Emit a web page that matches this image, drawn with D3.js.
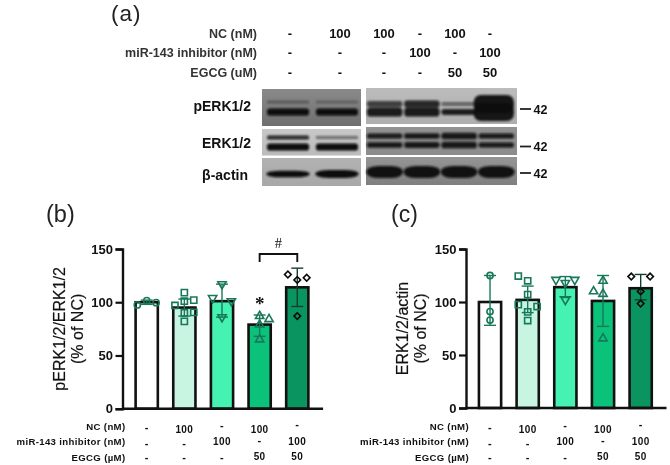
<!DOCTYPE html>
<html><head><meta charset="utf-8">
<script src="https://cdn.jsdelivr.net/npm/d3@7/dist/d3.min.js"></script>
<style>html,body{margin:0;padding:0;background:#fff}svg{display:block;filter:blur(.3px)}text{font-family:"Liberation Sans",Arial,sans-serif;fill:#111}</style>
</head><body><svg id="c" width="670" height="465"></svg>
<script>
// ---- data ----
const treatments = ["NC (nM)", "miR-143 inhibitor (nM)"];
const blotNC = ["-", "100", "100", "-", "100", "-"];
const blotInhibitor = ["-", "-", "-", "100", "-", "100"];
const blotEGCG = ["-", "-", "-", "-", "50", "50"];
const barNC = ["-", "100", "-", "100", "-"];
const barInhibitor = ["-", "-", "100", "-", "100"];
const barEGCG = ["-", "-", "-", "50", "50"];
const groups = ["g1", "g2", "g3", "g4", "g5"];
const yTicks = [0, 50, 100, 150];
const barColors = ["#ffffff", "#c8f5e2", "#45f2b1", "#0bc27b", "#0a9560"];

const perkMeans = [100, 95, 101, 79, 114];
const perkLow = [98, 87, 86, 68, 96];
const perkHigh = [102, 103, 117, 88, 132];
const perkPoints = [
  [[-1, 97.5], [0, 101.5], [1, 99.6]],
  [[-1, 97], [0, 109], [1, 102], [0, 101], [1, 90.5], [0, 90], [0, 82]],
  [[-1, 104], [0, 117], [1, 101], [0, 86]],
  [[0, 87], [1, 84], [0, 79], [0, 65]],
  [[-1, 126], [0, 121], [1, 123], [0, 87]]
];
const erkMeans = [100, 102, 114, 101, 113];
const erkLow = [78, 90, 105, 77, 102];
const erkHigh = [125, 115, 124, 125, 126];
const erkPoints = [
  [[0, 125], [0, 91], [0, 83]],
  [[-1, 124.5], [0, 120], [0, 107], [-1, 97.5], [1, 95.7], [0, 90.7], [0, 82.5]],
  [[-1, 121], [0, 118], [1, 121], [0, 102]],
  [[0, 120], [-1, 110], [0, 107.6], [0, 65.6]],
  [[-1, 124], [1, 124], [0, 110], [0, 98.5]]
];
// band strength per lane: [thickness of upper band, opacity of upper, thickness of lower, opacity of lower]
const laneLeft = ["L1", "L2"];
const laneRight = ["L3", "L4", "L5", "L6"];
const perkLeftBands = [[3, .3, 7, 1], [3, .25, 7, 1]];
const perkRightBands = [[6, .72, 9, .92], [7, .85, 9, .92], [3.5, .55, 6, .9], [18, .95, 18, .95]];
const erkLeftBands = [[4, .85, 7, 1], [3, .5, 7, 1]];
const erkRightBands = [[5, .9, 5.5, .92], [5.5, .92, 6, .92], [6.5, .92, 6.5, .92], [5, .92, 5, .92]];
const actinLeftBands = [[6.5, 1], [8, 1]];
const actinRightBands = [[12, .97], [12, .97], [12, .97], [12, .97]];
const markerLabel = "42";

// ---- drawing ----
const svg = d3.select("#c");
const defs = svg.append("defs");
defs.append("filter").attr("id", "blur").attr("x", "-20%").attr("y", "-60%").attr("width", "140%").attr("height", "220%")
  .append("feGaussianBlur").attr("stdDeviation", 1.3);

const ink = "#0d0d0d";
function panel(x0, x1, y0, y1, bg, bg2) {
  const id = "g" + x0 + "_" + y0;
  const g = defs.append("linearGradient").attr("id", id).attr("x1", 0).attr("x2", 0).attr("y1", 0).attr("y2", 1);
  g.append("stop").attr("offset", 0).attr("stop-color", bg);
  g.append("stop").attr("offset", 1).attr("stop-color", bg2);
  svg.append("rect").attr("x", x0).attr("y", y0).attr("width", x1 - x0).attr("height", y1 - y0).attr("fill", `url(#${id})`);
}
function bands(lanes, scale, rows, yA, yB) {
  const g = svg.append("g").attr("filter", "url(#blur)");
  rows.forEach((r, i) => {
    const x = scale(lanes[i]), w = scale.bandwidth();
    if (yB === undefined) {
      g.append("rect").attr("x", x - .5).attr("y", yA - r[0] / 2).attr("width", w + 1).attr("height", r[0]).attr("rx", w / 3).attr("ry", r[0] / 2.2).attr("fill", ink).attr("opacity", r[1]);
    } else {
      const grow = r[0] > 12 ? 5 : 0;
      g.append("rect").attr("x", x - grow).attr("y", yA - r[0] / 2).attr("width", w + grow).attr("height", r[0]).attr("rx", r[0] / 2.5).attr("fill", ink).attr("opacity", r[1]);
      g.append("rect").attr("x", x - grow).attr("y", yB - r[2] / 2).attr("width", w + grow).attr("height", r[2]).attr("rx", r[2] / 2.5).attr("fill", ink).attr("opacity", r[3]);
    }
  });
}
const left = d3.scaleBand().domain(laneLeft).range([267, 358]).paddingInner(0.14);
const right = d3.scaleBand().domain(laneRight).range([367, 514]).paddingInner(0.05);

panel(262, 361, 89, 126, "#8a8a8a", "#6f6f6f");
panel(262, 361, 129, 155.5, "#c8c8c8", "#bbbbbb");
panel(262, 361, 158, 186, "#b2b2b2", "#a8a8a8");
panel(366, 517, 88, 124, "#bcbcbc", "#aeaeae");
panel(366, 517, 127, 155, "#929292", "#8c8c8c");
panel(366, 517, 157, 185, "#959595", "#7f7f7f");
bands(laneLeft, left, perkLeftBands, 102, 112);
bands(laneRight, right, perkRightBands, 104, 112);
bands(laneLeft, left, erkLeftBands, 137.5, 147);
bands(laneRight, right, erkRightBands, 136, 145);
bands(laneLeft, left, actinLeftBands, 174);
bands(laneRight, right, actinRightBands, 172);

const blotLabels = ["pERK1/2", "ERK1/2", "β-actin"];
const blotLabelX = [251, 251, 248];
const blotLabelY = [111, 148, 180];
blotLabels.forEach((t, i) => svg.append("text").attr("x", blotLabelX[i]).attr("y", blotLabelY[i]).attr("text-anchor", "end")
  .attr("font-size", 14).attr("font-weight", 700).text(t));
[[109], [146.5], [173]].forEach(([y]) => {
  svg.append("line").attr("x1", 520).attr("x2", 531).attr("y1", y).attr("y2", y).attr("stroke", "#222").attr("stroke-width", 1.8);
  svg.append("text").attr("x", 533.5).attr("y", y + 4.5).attr("font-size", 12.5).attr("font-weight", 700).text(markerLabel);
});

svg.append("text").attr("x", 111).attr("y", 20.6).attr("font-size", 22.5).attr("letter-spacing", 1).style("fill", "#222").text("(a)");

// top treatment table
const topCols = [290, 340, 384, 420, 455, 490];
[[blotNC, 33, "NC (nM)"], [blotInhibitor, 52.5, treatments[1]], [blotEGCG, 72.5, "EGCG (uM)"]].forEach(([vals, y, lab]) => {
  svg.append("text").attr("x", 257).attr("y", y + 4.5).attr("text-anchor", "end").attr("font-size", 12.5).attr("font-weight", 700).style("fill", "#333").text(lab);
  vals.forEach((v, i) => svg.append("text").attr("x", topCols[i]).attr("y", y + 4.5).attr("text-anchor", "middle")
    .attr("font-size", 13).attr("font-weight", 700).text(v));
});

const sym = [d3.symbolCircle, d3.symbolSquare, d3.symbolTriangle, d3.symbolTriangle, d3.symbolSquare];
const symSize = [30, 38, 30, 30, 22];
const symFlip = [0, 0, 180, 0, 45];

function chart(o) {
  const x = d3.scaleBand().domain(groups).range(o.xr);
  const y = d3.scaleLinear().domain([0, 150]).range([o.y0, 249]);
  const g = svg.append("g");
  const w = 22.2, c = d => x(d) + x.bandwidth() / 2;
  g.selectAll("rect.bar").data(groups).join("rect").attr("class", "bar")
    .attr("x", d => c(d) - w / 2).attr("width", w)
    .attr("y", (d, i) => y(o.means[i])).attr("height", (d, i) => o.y0 - y(o.means[i]))
    .attr("fill", (d, i) => barColors[i]).attr("stroke", "#111").attr("stroke-width", 2.6);
  // error bars
  const teal = "#17785a";
  groups.forEach((d, i) => {
    const col = i === 4 ? "#123f2e" : teal;
    const e = g.append("g").attr("stroke", col).attr("stroke-width", 1.4).attr("fill", "none");
    e.append("line").attr("x1", c(d)).attr("x2", c(d)).attr("y1", y(o.low[i])).attr("y2", y(o.high[i]));
    [o.low[i], o.high[i]].forEach(v => e.append("line").attr("x1", c(d) - 6).attr("x2", c(d) + 6).attr("y1", y(v)).attr("y2", y(v)));
    const path = d3.symbol().type(sym[i]).size(symSize[i])();
    const mark = i === 4 ? "#0b0b0b" : teal;
    g.append("g").selectAll("path").data(o.points[i]).join("path").attr("d", path)
      .attr("fill", "none").attr("stroke", mark).attr("stroke-width", 1.6)
      .attr("transform", p => `translate(${c(d) + p[0] * 9.4},${y(p[1])}) rotate(${symFlip[i]})`);
  });
  // axes
  const ax = g.append("g").attr("transform", `translate(${o.ax},0)`).call(d3.axisLeft(y).tickValues(yTicks).tickSize(7).tickPadding(2.5));
  ax.select(".domain").attr("stroke", "#111").attr("stroke-width", 2.4);
  ax.selectAll("line").attr("stroke", "#111").attr("stroke-width", 2.2);
  ax.selectAll("text").attr("font-size", 13).attr("font-weight", 700).style("font-family", '"Liberation Sans"');
  const bx = g.append("g").attr("transform", `translate(0,${o.y0})`).call(d3.axisBottom(x).tickSize(0).tickFormat(""));
  bx.select(".domain").attr("d", `M${o.ax},0H${o.xr[1] + 7}`).attr("stroke", "#111").attr("stroke-width", 2.4);
  // titles
  o.title.forEach((t, i) => svg.append("text").attr("transform", `translate(${o.tx[i]},${(o.y0 + 249) / 2}) rotate(-90)`)
    .attr("text-anchor", "middle").attr("font-size", 16).attr("stroke", "#151515").attr("stroke-width", .2).text(t));
  // treatment rows
  [[barNC, 426, "NC (nM)", [2, 3, 0, 3, -1]], [barInhibitor, 441, treatments[1], [3, 3, 0, 0, 0]], [barEGCG, 457, "EGCG (µM)", [1, 1, 1, -1, -1]]].forEach(([vals, yy, lab, dy]) => {
    svg.append("text").attr("x", o.lab).attr("y", yy + 3.5).attr("text-anchor", "end").attr("font-size", 9.6).attr("font-weight", 700)
      .attr("letter-spacing", .35).text(lab);
    vals.forEach((v, i) => svg.append("text").attr("x", c(groups[i])).attr("y", yy + 4 + dy[i] - (v === "-" ? 1 : 0)).attr("text-anchor", "middle")
      .attr("font-size", v === "-" ? 11 : 10).attr("font-weight", 700).attr("letter-spacing", .4).text(v));
  });
  svg.append("text").attr("x", o.pl).attr("y", 221.5).attr("font-size", o.ts).style("fill", "#222").text(o.tag);
  return { x, y, c };
}

const b = chart({ xr: [127.9, 316.1], ax: 122.5, y0: 408.7, means: perkMeans, low: perkLow, high: perkHigh, points: perkPoints,
  title: ["pERK1/2/ERK1/2", "(% of NC)"], tx: [65, 83], lab: 125.5, pl: 46, tag: "(b)", ts: 23.5 });
const cc = chart({ xr: [471.2, 659.5], ax: 466, y0: 408, means: erkMeans, low: erkLow, high: erkHigh, points: erkPoints,
  title: ["ERK1/2/actin", "(% of NC)"], tx: [408, 426], lab: 469, pl: 391, tag: "(c)", ts: 23 });

// significance annotations
const bx1 = b.c("g4"), bx2 = b.c("g5");
svg.append("path").attr("fill", "none").attr("stroke", "#111").attr("stroke-width", 1.9)
  .attr("d", `M${bx1},262V254H${bx2}V262`);
svg.append("text").attr("x", (bx1 + bx2) / 2).attr("y", 248).attr("text-anchor", "middle").style("font-family", "Liberation Serif").attr("font-size", 14.5).text("#");
svg.append("text").attr("x", bx1).attr("y", 309.5).attr("text-anchor", "middle").style("font-family", "Liberation Serif").attr("font-size", 19).attr("font-weight", 700).text("*");
</script></body></html>
